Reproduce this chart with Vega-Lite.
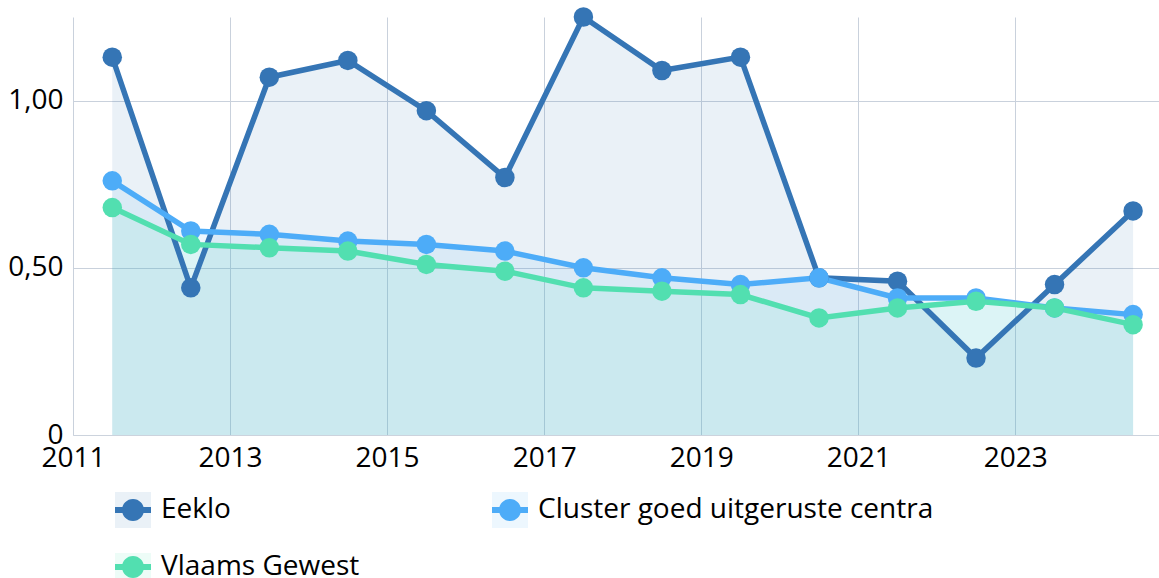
{
  "$schema": "https://vega.github.io/schema/vega-lite/v6.json",
  "width": 1086,
  "height": 418,
  "autosize": {"type": "none"},
  "padding": {"left": 73, "top": 17, "right": 0, "bottom": 143},
  "background": "white",
  "config": {"font": "Open Sans", "view": {"stroke": null}},
  "data": {
    "values": [
      {"year": 2011.5, "series": "Eeklo", "value": 1.13},
      {"year": 2012.5, "series": "Eeklo", "value": 0.44},
      {"year": 2013.5, "series": "Eeklo", "value": 1.07},
      {"year": 2014.5, "series": "Eeklo", "value": 1.12},
      {"year": 2015.5, "series": "Eeklo", "value": 0.97},
      {"year": 2016.5, "series": "Eeklo", "value": 0.77},
      {"year": 2017.5, "series": "Eeklo", "value": 1.25},
      {"year": 2018.5, "series": "Eeklo", "value": 1.09},
      {"year": 2019.5, "series": "Eeklo", "value": 1.13},
      {"year": 2020.5, "series": "Eeklo", "value": 0.47},
      {"year": 2021.5, "series": "Eeklo", "value": 0.46},
      {"year": 2022.5, "series": "Eeklo", "value": 0.23},
      {"year": 2023.5, "series": "Eeklo", "value": 0.45},
      {"year": 2024.5, "series": "Eeklo", "value": 0.67},
      {"year": 2011.5, "series": "Cluster goed uitgeruste centra", "value": 0.76},
      {"year": 2012.5, "series": "Cluster goed uitgeruste centra", "value": 0.61},
      {"year": 2013.5, "series": "Cluster goed uitgeruste centra", "value": 0.60},
      {"year": 2014.5, "series": "Cluster goed uitgeruste centra", "value": 0.58},
      {"year": 2015.5, "series": "Cluster goed uitgeruste centra", "value": 0.57},
      {"year": 2016.5, "series": "Cluster goed uitgeruste centra", "value": 0.55},
      {"year": 2017.5, "series": "Cluster goed uitgeruste centra", "value": 0.50},
      {"year": 2018.5, "series": "Cluster goed uitgeruste centra", "value": 0.47},
      {"year": 2019.5, "series": "Cluster goed uitgeruste centra", "value": 0.45},
      {"year": 2020.5, "series": "Cluster goed uitgeruste centra", "value": 0.47},
      {"year": 2021.5, "series": "Cluster goed uitgeruste centra", "value": 0.41},
      {"year": 2022.5, "series": "Cluster goed uitgeruste centra", "value": 0.41},
      {"year": 2023.5, "series": "Cluster goed uitgeruste centra", "value": 0.38},
      {"year": 2024.5, "series": "Cluster goed uitgeruste centra", "value": 0.36},
      {"year": 2011.5, "series": "Vlaams Gewest", "value": 0.68},
      {"year": 2012.5, "series": "Vlaams Gewest", "value": 0.57},
      {"year": 2013.5, "series": "Vlaams Gewest", "value": 0.56},
      {"year": 2014.5, "series": "Vlaams Gewest", "value": 0.55},
      {"year": 2015.5, "series": "Vlaams Gewest", "value": 0.51},
      {"year": 2016.5, "series": "Vlaams Gewest", "value": 0.49},
      {"year": 2017.5, "series": "Vlaams Gewest", "value": 0.44},
      {"year": 2018.5, "series": "Vlaams Gewest", "value": 0.43},
      {"year": 2019.5, "series": "Vlaams Gewest", "value": 0.42},
      {"year": 2020.5, "series": "Vlaams Gewest", "value": 0.35},
      {"year": 2021.5, "series": "Vlaams Gewest", "value": 0.38},
      {"year": 2022.5, "series": "Vlaams Gewest", "value": 0.40},
      {"year": 2023.5, "series": "Vlaams Gewest", "value": 0.38},
      {"year": 2024.5, "series": "Vlaams Gewest", "value": 0.33}
    ]
  },
  "encoding": {
    "x": {
      "field": "year",
      "type": "quantitative",
      "scale": {"domain": [2011, 2024.83], "nice": false, "zero": false},
      "axis": {
        "values": [2011, 2013, 2015, 2017, 2019, 2021, 2023],
        "format": "d",
        "title": null,
        "labelFontSize": 28,
        "labelColor": "#000000",
        "labelPadding": 9,
        "labelFlush": false,
        "ticks": false,
        "domainColor": "#ccd3dd",
        "gridColor": "#c9d1dc"
      }
    },
    "y": {
      "field": "value",
      "type": "quantitative",
      "stack": null,
      "scale": {"domain": [0, 1.25], "nice": false},
      "axis": {
        "values": [0, 0.5, 1],
        "labelExpr": "datum.value == 0 ? '0' : replace(format(datum.value, '.2f'), '.', ',')",
        "title": null,
        "domain": false,
        "ticks": false,
        "labelFontSize": 28,
        "labelColor": "#000000",
        "labelPadding": 10,
        "gridColor": "#c9d1dc"
      }
    }
  },
  "layer": [
    {
      "mark": {"type": "area", "fillOpacity": 0.1},
      "encoding": {
        "fill": {
          "field": "series",
          "type": "nominal",
          "sort": ["Eeklo", "Cluster goed uitgeruste centra", "Vlaams Gewest"],
          "scale": {"range": ["#3575b5", "#4dacf8", "#52dfb0"]},
          "legend": {
            "orient": "none",
            "direction": "horizontal",
            "legendX": 42,
            "legendY": 475,
            "columns": 2,
            "columnPadding": 132,
            "rowPadding": 25,
            "symbolType": "square",
            "symbolSize": 1296,
            "symbolOpacity": 0.1,
            "symbolStrokeWidth": 0,
            "labelFontSize": 28,
            "labelLimit": 600,
            "labelOffset": 10,
            "labelOpacity": 0,
            "title": null,
            "zindex": 0
          }
        }
      }
    },
    {
      "mark": {"type": "line", "strokeWidth": 5.5},
      "encoding": {
        "color": {
          "field": "series",
          "type": "nominal",
          "scale": {
            "domain": ["Eeklo", "Cluster goed uitgeruste centra", "Vlaams Gewest"],
            "range": ["#3575b5", "#4dacf8", "#52dfb0"]
          },
          "legend": {
            "orient": "none",
            "direction": "horizontal",
            "legendX": 42,
            "legendY": 475,
            "columns": 2,
            "columnPadding": 132,
            "rowPadding": 25,
            "symbolType": "M-1,-0.167H1V0.167H-1Z M0.611,0A0.611,0.611 0 1,1 -0.611,0A0.611,0.611 0 1,1 0.611,0Z",
            "symbolSize": 1296,
            "symbolOpacity": 1,
            "symbolStrokeWidth": 0,
            "labelFontSize": 28,
            "labelLimit": 600,
            "labelOffset": 10,
            "labelColor": "#000000",
            "title": null,
            "zindex": 1
          }
        }
      }
    },
    {
      "mark": {"type": "point", "filled": true, "opacity": 1, "size": 380, "shape": "circle"},
      "encoding": {
        "color": {"field": "series", "type": "nominal"}
      }
    }
  ]
}
